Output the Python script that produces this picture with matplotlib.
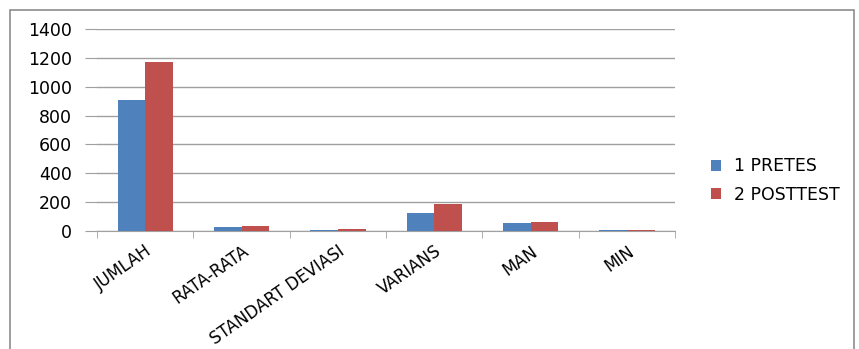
import numpy as np
from matplotlib import pyplot as plt
from matplotlib.patches import Rectangle

categories = ['JUMLAH', 'RATA-RATA', 'STANDART DEVIASI', 'VARIANS', 'MAN', 'MIN']
pretes = [910, 29, 8, 127, 53, 5]
posttest = [1170, 34, 11, 189, 62, 8]
series_names = ['1 PRETES', '2 POSTTEST']

plt.rcParams['font.family'] = ['DejaVu Sans']

fig = plt.figure(figsize=(8.59, 3.49), dpi=100)
fig.patches.append(Rectangle((0.012, -0.01), 0.982, 0.982, transform=fig.transFigure,
                             fill=False, edgecolor='#8c8c8c', linewidth=1.2))
ax = fig.add_axes([0.113, 0.338, 0.673, 0.579])

x = np.arange(len(categories))
w = 0.286
ax.bar(x - w / 2, pretes, w, color='#4F81BD', label=series_names[0], zorder=3)
ax.bar(x + w / 2, posttest, w, color='#C0504D', label=series_names[1], zorder=3)

ax.set_xlim(-0.5, len(categories) - 0.5)
ax.set_ylim(0, 1400)
ax.set_yticks(range(0, 1401, 200))
ax.yaxis.grid(True, color='#a0a0a0', linewidth=1, zorder=0)
for s in ['top', 'right', 'left']:
    ax.spines[s].set_visible(False)
ax.spines['bottom'].set_color('#a0a0a0')
ax.tick_params(axis='y', length=9, color='#a0a0a0', labelsize=12.5, pad=9)
ax.set_xticks(np.arange(-0.5, len(categories), 1), minor=True)
ax.set_xticks(x)
ax.set_xticklabels(categories, rotation=35, ha='right', rotation_mode='anchor', fontsize=12)
ax.tick_params(axis='x', which='major', length=0, pad=8)
ax.tick_params(axis='x', which='minor', length=5, color='#a0a0a0')

leg = ax.legend(loc='center left', bbox_to_anchor=(1.035, 0.25), frameon=False,
                fontsize=12.5, handlelength=0.6, handleheight=0.6, labelspacing=0.6,
                handletextpad=0.7)

fig.savefig('out.png', dpi=100)
